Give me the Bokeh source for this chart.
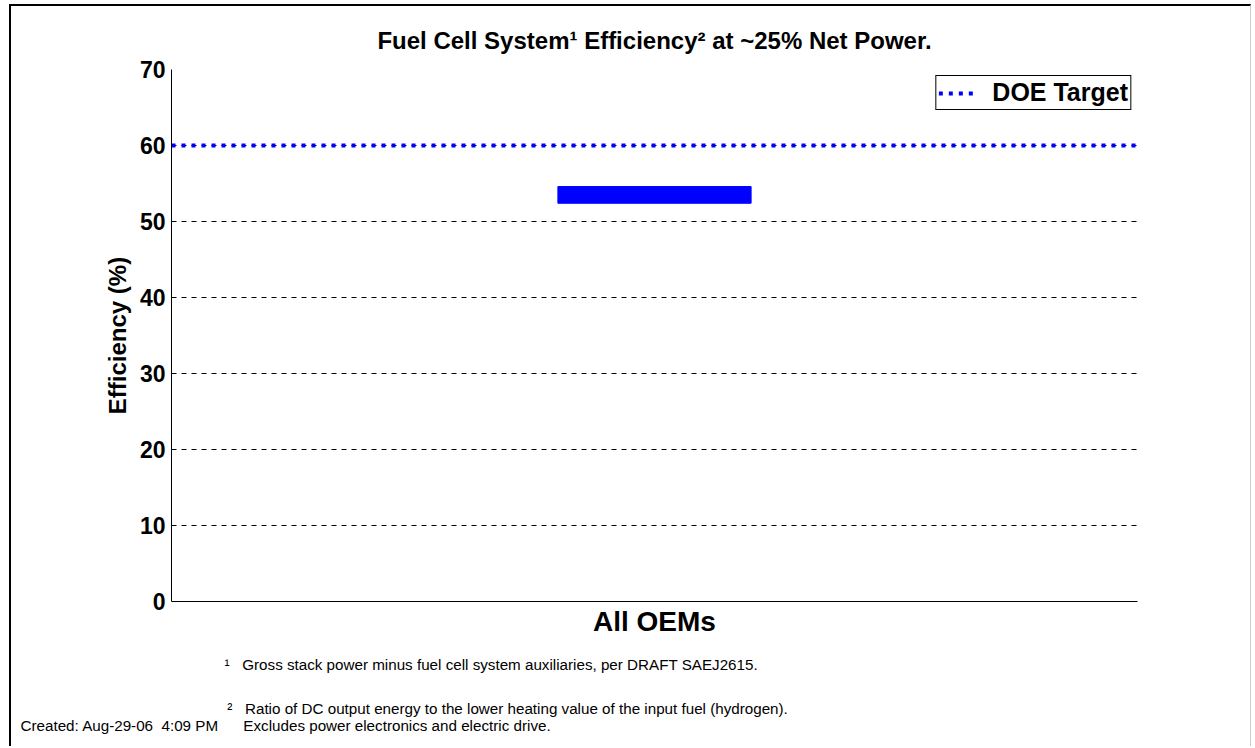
from bokeh.plotting import figure
from bokeh.models import (FactorRange, Range1d, Legend, LegendItem, Title,
                          FixedTicker)
from bokeh.embed import file_html
from bokeh.resources import INLINE

# ---- data ----
categories = ["All OEMs"]
eff_low = [52.4]
eff_high = [54.6]
doe_target = [60, 60]
y_ticks = [0, 10, 20, 30, 40, 50, 60, 70]
title_text = "Fuel Cell System\u00b9 Efficiency\u00b2 at ~25% Net Power."
y_label = "Efficiency (%)"
legend_label = "DOE Target"
note1 = "Gross stack power minus fuel cell system auxiliaries, per DRAFT SAEJ2615."
note2a = "Ratio of DC output energy to the lower heating value of the input fuel (hydrogen)."
note2b = "Excludes power electronics and electric drive."
created = "Created: Aug-29-06\u00a0\u00a04:09 PM"

OX, OY = 11, 6                       # canvas origin on the page
W, H = 1242, 742
FL, FT, FR, FB = 171, 69, 1137, 601  # frame edges in page pixels
FONT = "Liberation Sans"
NB = "\u00a0"

p = figure(width=W, height=H, x_range=FactorRange(*categories, range_padding=0),
           y_range=Range1d(0, 70), output_backend="svg", toolbar_location=None,
           min_border_left=FL - OX, min_border_right=OX + W - FR,
           min_border_top=FT - OY, min_border_bottom=OY + H - FB)
p.styles = {"border-left": "2px solid black", "border-top": "2px solid black",
            "border-right": "1px solid #cccccc", "margin-left": "9px",
            "margin-top": "4px"}
p.outline_line_color = None
p.background_fill_color = "white"
p.border_fill_color = "white"

# title
p.title.text = title_text
p.title.align = "center"
p.title.text_font = FONT
p.title.text_font_style = "bold"
p.title.text_font_size = "24px"
p.title.text_color = "black"
p.title.standoff = 31

# bar
p.vbar(x=categories, width=0.2, bottom=eff_low, top=eff_high,
       fill_color="#0000ff", line_color="#0000ff")

# DOE target line across the whole category range
doe_x = [(categories[0], -0.5), (categories[0], 0.5)]
doe = p.line(x=doe_x, y=doe_target, line_color="#0000ff", line_width=4,
             line_dash="4 6")

# axes
p.yaxis.ticker = FixedTicker(ticks=y_ticks)
p.yaxis.minor_tick_line_color = None
p.yaxis.major_tick_line_color = None
p.yaxis.major_tick_out = 0
p.yaxis.major_label_text_font = FONT
p.yaxis.major_label_text_font_style = "bold"
p.yaxis.major_label_text_font_size = "23px"
p.yaxis.major_label_text_color = "black"
p.yaxis.major_label_standoff = 6
p.yaxis.axis_label = y_label
p.yaxis.axis_label_text_font = FONT
p.yaxis.axis_label_text_font_style = "bold"
p.yaxis.axis_label_text_font_size = "24px"
p.yaxis.axis_label_text_color = "black"
p.yaxis.axis_label_standoff = 6
p.yaxis.axis_line_color = "black"

p.xaxis.major_tick_line_color = None
p.xaxis.minor_tick_line_color = None
p.xaxis.major_tick_out = 0
p.xaxis.major_label_text_font = FONT
p.xaxis.major_label_text_font_style = "bold"
p.xaxis.major_label_text_font_size = "28px"
p.xaxis.major_label_text_color = "black"
p.xaxis.major_label_standoff = 4
p.xaxis.axis_line_color = "black"

p.xgrid.grid_line_color = None
p.ygrid.grid_line_color = "black"
p.ygrid.grid_line_dash = "5 5"
p.ygrid.grid_line_width = 1

legend = Legend(items=[LegendItem(label=legend_label, renderers=[doe])],
                location="top_right")
legend.label_text_font = FONT
legend.label_text_font_style = "bold"
legend.label_text_font_size = "25px"
legend.label_text_color = "black"
legend.border_line_color = "black"
legend.border_line_width = 1
legend.border_line_alpha = 1
legend.margin = 6
legend.padding = 2
legend.spacing = 0
legend.glyph_width = 40
legend.glyph_height = 20
legend.label_standoff = 14
legend.label_height = 20
p.add_layout(legend)

# footnotes below the axis
t1_text = "\u00b9" + NB * 3 + note1
t1 = Title(text=t1_text, align="left", offset=224 - FL, text_font=FONT,
           text_font_size="15.2px", text_font_style="normal",
           text_color="black", standoff=28)
p.add_layout(t1, "below")

line_a = NB * 49 + "\u00b2" + NB * 3 + note2a
line_b = created + NB * 6 + note2b
t2 = Title(text=line_a + "\n" + line_b, align="left", offset=20 - FL,
           text_font=FONT, text_font_size="15.2px", text_font_style="normal",
           text_color="black", standoff=23)
p.add_layout(t2, "below")

open("out.html", "w").write(file_html(p, INLINE))
